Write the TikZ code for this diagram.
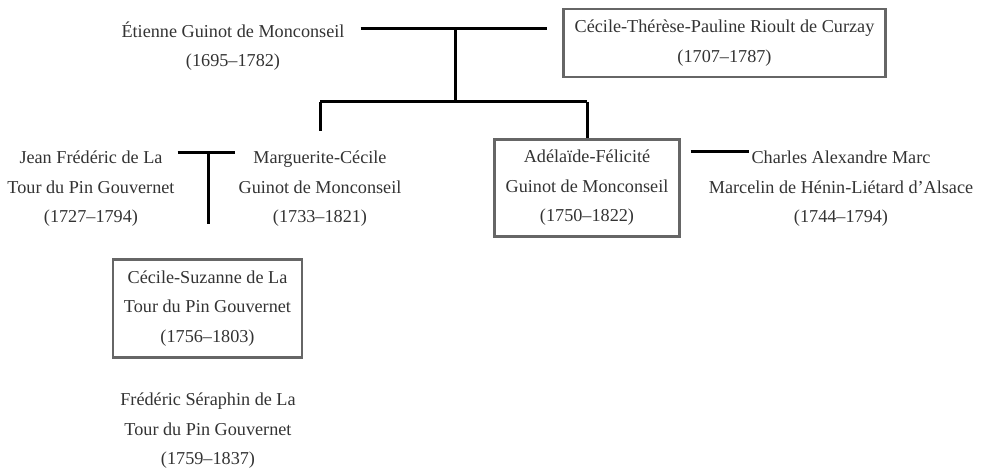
\documentclass[tikz,border=0pt]{standalone}
\usepackage{fontspec}
\setmainfont{Liberation Serif}
\usetikzlibrary{calc}

\tikzset{
  person/.style={align=center, inner sep=3pt, text=black!80,
    font=\fontsize{18.2}{29.5}\selectfont},
  boxed/.style={person, draw=black!60, line width=2.7pt,
    inner xsep=11pt, inner ysep=11pt},
  bond/.style={line width=3pt, black}
}

\begin{document}
\begin{tikzpicture}[x=1pt,y=-1pt]
  \useasboundingbox (0,0) rectangle (988,470);
  % ---------------- generation 1 ----------------
  \node[person] (etienne) at (233,46) {Étienne Guinot de Monconseil\\(1695–1782)};
  \node[boxed] (curzay) at (724.5,43) {Cécile-Thérèse-Pauline Rioult de Curzay\\(1707–1787)};
  % ---------------- generation 2 ----------------
  \node[person] (jean) at (91,189) {Jean Frédéric de La\\Tour du Pin Gouvernet\\(1727–1794)};
  \node[person] (marguerite) at (320,189) {Marguerite-Cécile\\Guinot de Monconseil\\(1733–1821)};
  \node[boxed] (adelaide) at (587,188) {Adélaïde-Félicité\\Guinot de Monconseil\\(1750–1822)};
  \node[person] (charles) at (841,189) {Charles Alexandre Marc\\Marcelin de Hénin-Liétard d’Alsace\\(1744–1794)};
  % ---------------- generation 3 ----------------
  \node[boxed] (suzanne) at (207.5,308.5) {Cécile-Suzanne de La\\Tour du Pin Gouvernet\\(1756–1803)};
  \node[person] (seraphin) at (208,431) {Frédéric Séraphin de La\\Tour du Pin Gouvernet\\(1759–1837)};
  % ---------------- junctions ----------------
  \coordinate (u1) at (455,29);
  \coordinate (k1) at (455,102);
  \coordinate (u2) at (208,153);
  \coordinate (u2end) at (208,224);
  \coordinate (u3) at (749,152);
  % ---------------- bonds ----------------
  \draw[bond] ([xshift=13pt]etienne.east |- u1) -- ([xshift=-15pt]curzay.west |- u1);
  \draw[bond] (u1) -- (k1);
  \draw[bond] (marguerite.north |- k1) -- (adelaide.north |- k1);
  \draw[bond,shorten >=17pt] (marguerite.north |- k1) -- (marguerite.north);
  \draw[bond] (adelaide.north |- k1) -- (adelaide.north);
  \draw[bond] (jean.east |- u2) -- (marguerite.west |- u2);
  \draw[bond] (u2) -- (u2end);
  \draw[bond,shorten <=10pt] (adelaide.east |- u3) -- (u3);
\end{tikzpicture}
\end{document}
